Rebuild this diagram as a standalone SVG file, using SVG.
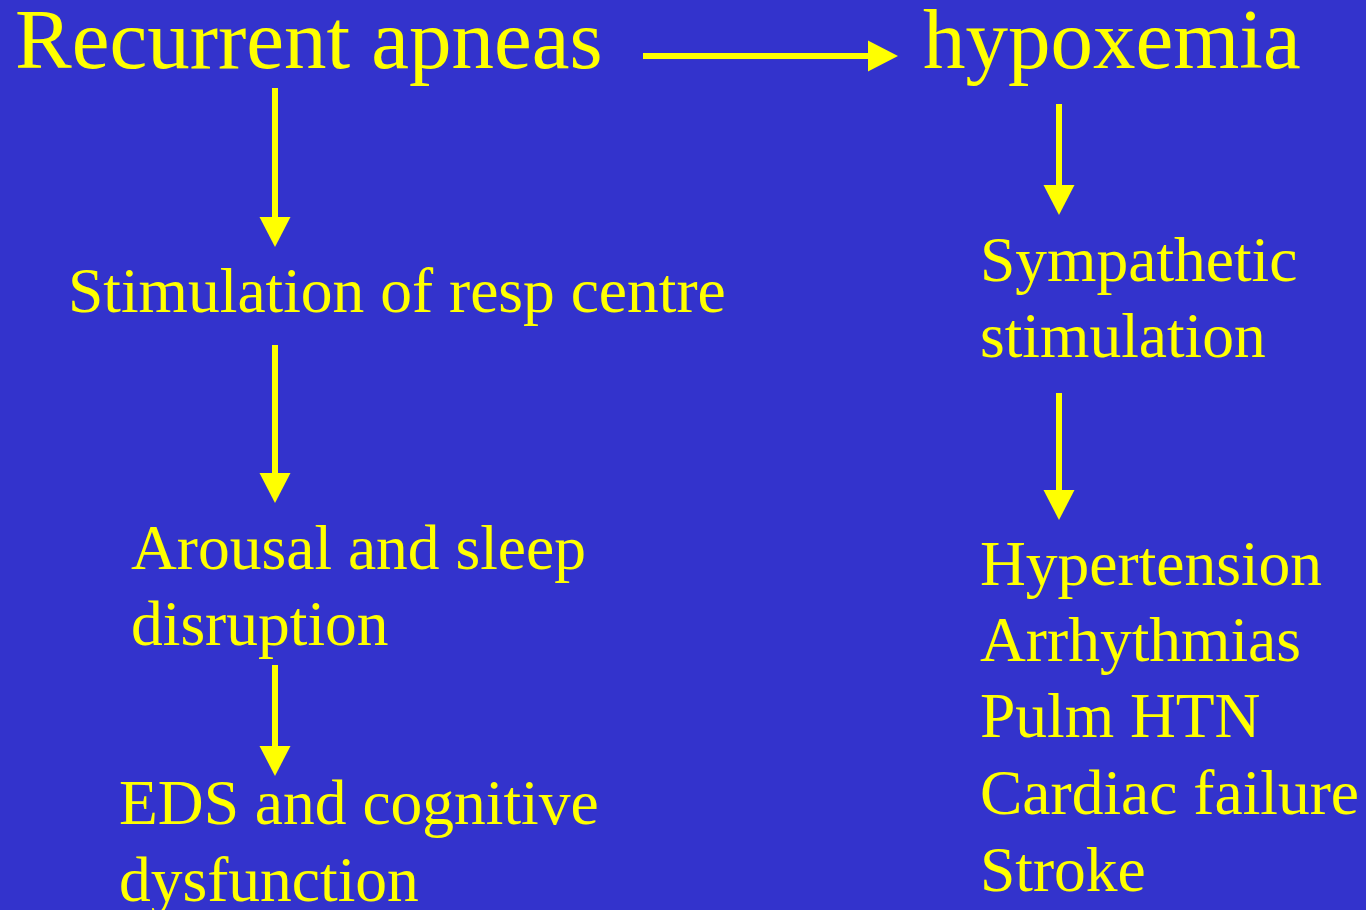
<svg xmlns="http://www.w3.org/2000/svg" width="1366" height="910" viewBox="0 0 1366 910">
<style>
  text { font-family: "Liberation Serif", "Times New Roman", serif; fill: #FFFF00; }
  .title { font-size: 85px; }
  .body { font-size: 63.5px; }
  .conn { stroke: #FFFF00; stroke-width: 6; fill: none; marker-end: url(#arrow); }
</style>
<defs>
  <marker id="arrow" markerUnits="userSpaceOnUse" markerWidth="30" markerHeight="31" refX="0" refY="15.5" orient="auto" overflow="visible">
    <path d="M0,0 L30,15.5 L0,31 Z" fill="#FFFF00"/>
  </marker>
</defs>
<rect width="1366" height="910" fill="#3333CC"/>
<g id="connectors">
  <line class="conn" x1="643" y1="56" x2="868" y2="56"/>
  <line class="conn" x1="275" y1="88" x2="275" y2="217"/>
  <line class="conn" x1="275" y1="345" x2="275" y2="473"/>
  <line class="conn" x1="275" y1="665" x2="275" y2="746"/>
  <line class="conn" x1="1059" y1="104" x2="1059" y2="185"/>
  <line class="conn" x1="1059" y1="393" x2="1059" y2="490"/>
</g>
<g id="recurrent-apneas"><text class="title" x="15" y="68">Recurrent apneas</text></g>
<g id="hypoxemia"><text class="title" x="923" y="68">hypoxemia</text></g>
<g id="stimulation-resp-centre"><text class="body" x="68" y="312">Stimulation of resp centre</text></g>
<g id="arousal"><text class="body" x="131" y="569">Arousal and sleep</text><text class="body" x="131" y="645">disruption</text></g>
<g id="eds"><text class="body" x="119" y="824">EDS and cognitive</text><text class="body" x="119" y="901">dysfunction</text></g>
<g id="sympathetic"><text class="body" x="980" y="281">Sympathetic</text><text class="body" x="980" y="357">stimulation</text></g>
<g id="outcomes">
  <text class="body" x="980" y="585">Hypertension</text>
  <text class="body" x="980" y="661">Arrhythmias</text>
  <text class="body" x="980" y="737">Pulm HTN</text>
  <text class="body" x="980" y="814">Cardiac failure</text>
  <text class="body" x="980" y="891">Stroke</text>
</g>
</svg>
